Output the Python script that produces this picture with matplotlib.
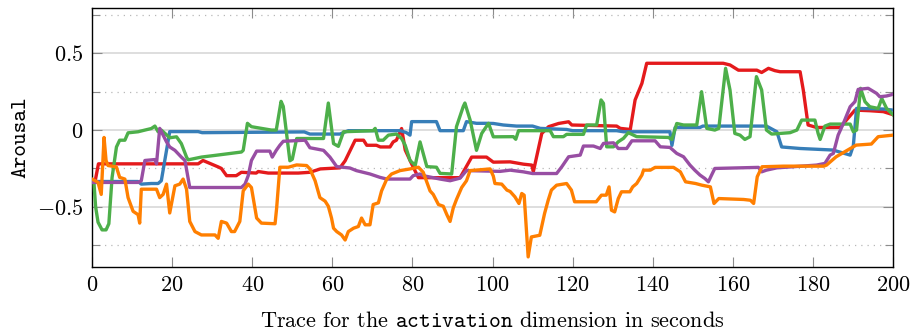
import numpy as np
import matplotlib
matplotlib.use("Agg")
import matplotlib.pyplot as plt
from matplotlib.ticker import MultipleLocator, FuncFormatter

plt.rcParams["font.family"] = "serif"
plt.rcParams["font.serif"] = ["cmr10"]
plt.rcParams["mathtext.fontset"] = "cm"
plt.rcParams["axes.unicode_minus"] = True

# (time [s], arousal) traces, one per annotator
red_pts = [(0, -0.33), (0.8, -0.33), (1.6, -0.22), (26.5, -0.22), (27.7, -0.198), (31.5, -0.24),
           (32.3, -0.25), (33.6, -0.297), (36, -0.297), (37.3, -0.275), (41, -0.28), (41.5, -0.27),
           (44, -0.28), (51.5, -0.28), (54.4, -0.275), (57, -0.253), (61.9, -0.246), (63.2, -0.2),
           (65.7, -0.066), (67.8, -0.066), (68.6, -0.099), (71, -0.099), (72, -0.11), (74.4, -0.11),
           (75.2, -0.077), (76, -0.066), (77.3, 0.01), (78.2, -0.13), (79.8, -0.22), (81.5, -0.31),
           (91.9, -0.31), (94.8, -0.176), (98.5, -0.176), (100.2, -0.209), (104.4, -0.207),
           (107.7, -0.222), (109.8, -0.228), (110.2, -0.27), (112.3, -0.022), (114, 0.022),
           (116.5, 0.043), (119, 0.054), (119.8, 0.033), (131, 0.026), (131.9, 0.011),
           (134.4, 0.004), (135.6, 0.196), (137.3, 0.304), (138.5, 0.435), (157.6, 0.435),
           (159.3, 0.424), (161.4, 0.39), (166, 0.39), (167.2, 0.375), (168.9, 0.402),
           (170.5, 0.387), (171.8, 0.38), (176.8, 0.38), (177.6, 0.26), (178.8, 0.033),
           (180.9, 0.017), (186.8, 0.017), (188, 0.054), (190.5, 0.13), (194.2, 0.126),
           (197.6, 0.12), (200, 0.1)]

blue_pts = [(0, -0.335), (11.5, -0.335), (12.3, -0.352), (14.8, -0.348), (16.5, -0.348),
            (17.3, -0.33), (19.4, -0.01), (26.5, -0.01), (27.5, -0.017), (53, -0.012),
            (54.4, -0.026), (61.9, -0.026), (64, -0.004), (77, -0.004), (78.5, -0.017),
            (79.4, -0.033), (79.8, 0.055), (86, 0.055), (86.9, -0.004), (92.7, -0.004),
            (93.5, 0.055), (96, 0.044), (98.5, 0.044), (100.2, 0.043), (102.7, 0.033),
            (106, 0.026), (110, 0.026), (111.9, 0.011), (118.5, 0.004), (120, -0.004),
            (131, -0.004), (132.7, -0.011), (144.3, -0.011), (144.8, -0.1), (145.6, 0.017),
            (151.8, 0.017), (152.5, 0.026), (168.4, 0.026), (171, -0.011), (172.2, -0.11),
            (176.8, -0.12), (185, -0.13), (189.3, -0.163), (190.1, -0.1), (190.9, 0.141),
            (197.6, 0.137), (200, 0.13)]

green_pts = [(0, -0.33), (0.5, -0.35), (0.9, -0.5), (1.5, -0.6), (2.5, -0.65), (3.5, -0.65),
             (4.2, -0.61), (5, -0.31), (6.1, -0.11), (6.9, -0.066), (8.2, -0.066), (9, -0.018),
             (11.5, -0.011), (13.2, 0), (14.8, 0.01), (15.7, 0.026), (16.5, -0.011), (17.3, 0),
             (19.4, -0.05), (21.1, -0.044), (22.3, -0.088), (23.6, -0.176), (24, -0.194),
             (27.3, -0.176), (30.7, -0.165), (34, -0.154), (37.3, -0.143), (37.75, -0.132),
             (38.8, 0.044), (39.8, 0.022), (42.3, 0.011), (44.8, 0), (46, 0), (47.2, 0.187),
             (47.75, 0.154), (49.4, -0.2), (50, -0.19), (51.1, -0.055), (57.8, -0.055),
             (59, 0.176), (60.3, -0.088), (61.5, -0.106), (62.8, -0.011), (70.2, -0.004),
             (70.7, 0.011), (71.5, -0.066), (72.7, -0.066), (74, -0.033), (76, -0.026),
             (77.3, -0.055), (78.2, -0.099), (79.4, -0.198), (80.7, -0.23), (81.9, -0.077),
             (83.6, -0.238), (86, -0.242), (86.9, -0.282), (89.8, -0.286), (91, 0.022),
             (92.7, 0.154), (93.1, 0.176), (94.4, 0.066), (96, -0.132), (97.3, -0.022),
             (99, 0.044), (100.2, -0.044), (105.2, -0.043), (105.8, -0.06), (106.5, -0.004),
             (114.4, -0.004), (115.2, -0.043), (117.7, -0.043), (118.5, -0.028), (122.7, -0.028),
             (123.5, 0.033), (126, 0.033), (127.1, 0.196), (127.7, 0.174), (128.5, -0.109),
             (130.2, -0.109), (131.4, -0.076), (132.7, -0.054), (133.9, -0.017), (135.2, -0.033),
             (136, -0.043), (143.9, -0.048), (144.8, -0.061), (146, 0.043), (147.7, 0.033),
             (151, 0.033), (152.2, 0.25), (153.5, 0.011), (155.5, 0), (156.5, 0.011),
             (157.3, 0.196), (158.2, 0.402), (159.3, 0.261), (160.5, -0.022), (161.8, -0.033),
             (163, -0.061), (164.3, -0.043), (165.9, 0.348), (167.2, 0.261), (168.4, 0),
             (169.7, -0.026), (174.3, -0.017), (176, 0), (177.2, 0.065), (180.5, 0.065),
             (181.3, -0.022), (181.8, -0.061), (183, 0.026), (184.3, 0.039), (189.3, 0.039),
             (190.1, -0.011), (190.9, 0), (191.9, 0.272), (193, 0.185), (194.2, 0.152),
             (196.3, 0.141), (197.2, 0.206), (198.4, 0.141), (200, 0.1)]

purple_pts = [(0, -0.341), (11.5, -0.341), (12.3, -0.33), (13.2, -0.198), (15.7, -0.192),
              (16.1, -0.22), (16.9, 0.011), (17.75, -0.033), (18.6, -0.077), (19.4, -0.11),
              (20.7, -0.132), (22.3, -0.176), (23.2, -0.198), (24.4, -0.374), (37.3, -0.374),
              (38.2, -0.352), (39, -0.297), (39.8, -0.198), (41.1, -0.137), (44.4, -0.137),
              (45, -0.176), (46, -0.132), (46.9, -0.099), (47.75, -0.073), (53.2, -0.066),
              (54.4, -0.115), (57.8, -0.132), (59.4, -0.176), (61.1, -0.238), (64.4, -0.247),
              (66, -0.264), (69.4, -0.286), (71.9, -0.308), (73.6, -0.319), (79.4, -0.319),
              (80.2, -0.297), (81.9, -0.286), (82.7, -0.297), (86.9, -0.319), (89.4, -0.33),
              (91.9, -0.313), (93.5, -0.264), (101.9, -0.269), (104.4, -0.261), (107.7, -0.272),
              (110, -0.283), (116, -0.283), (117.3, -0.239), (119, -0.174), (121.9, -0.163),
              (122.7, -0.104), (125.2, -0.104), (126.9, -0.12), (127.7, -0.087), (130.2, -0.083),
              (131.4, -0.12), (133.5, -0.12), (134.8, -0.07), (140.6, -0.07), (141.9, -0.109),
              (144.3, -0.113), (146, -0.152), (147.7, -0.174), (149.3, -0.228), (150.5, -0.261),
              (151.8, -0.293), (153, -0.315), (153.9, -0.337), (154.7, -0.293), (155.5, -0.25),
              (166.4, -0.243), (167.2, -0.272), (168.4, -0.261), (171, -0.246), (175, -0.239),
              (180.9, -0.228), (183, -0.217), (184.3, -0.163), (185.1, -0.152), (186.3, -0.033),
              (187.6, 0.043), (189.3, 0.152), (190.5, 0.185), (191.3, 0.265), (193.8, 0.272),
              (195.9, 0.239), (196.7, 0.217), (198.4, 0.222), (200, 0.233)]

orange_pts = [(0, -0.319), (0.8, -0.33), (1.5, -0.341), (2.3, -0.419), (3, -0.048), (3.5, -0.198),
              (4, -0.231), (5.7, -0.238), (6.1, -0.242), (6.9, -0.308), (8.2, -0.319), (9, -0.44),
              (10.25, -0.529), (11.5, -0.551), (11.9, -0.606), (12.3, -0.385), (16.1, -0.385),
              (16.9, -0.44), (17.75, -0.419), (18.6, -0.352), (19.4, -0.54), (20.7, -0.363),
              (21.9, -0.352), (22.75, -0.319), (23.6, -0.385), (24.4, -0.595), (25.7, -0.661),
              (27.3, -0.683), (30.7, -0.683), (31.5, -0.705), (32.3, -0.595), (33.6, -0.606),
              (34.8, -0.661), (35.6, -0.661), (36.9, -0.595), (37.75, -0.396), (39, -0.352),
              (39.8, -0.374), (41.1, -0.573), (42.3, -0.606), (45.7, -0.61), (46.1, -0.507),
              (46.9, -0.242), (49, -0.242), (51.1, -0.227), (53.6, -0.231), (54.4, -0.253),
              (55.7, -0.33), (56.9, -0.44), (58.2, -0.463), (59, -0.496), (59.8, -0.573),
              (60.3, -0.639), (61.1, -0.661), (62.3, -0.683), (63.2, -0.716), (64, -0.661),
              (65.3, -0.639), (66.5, -0.628), (67.3, -0.573), (68.2, -0.617), (69.4, -0.617),
              (70.2, -0.485), (71.5, -0.474), (72.3, -0.396), (73.6, -0.319), (74.8, -0.286),
              (76.9, -0.264), (79.4, -0.253), (81.5, -0.242), (82.7, -0.275), (84.4, -0.396),
              (85.2, -0.419), (86.5, -0.485), (87.7, -0.496), (88.6, -0.551), (89.4, -0.595),
              (90.2, -0.507), (91, -0.452), (92.3, -0.374), (93.5, -0.33), (94.4, -0.264),
              (99.4, -0.253), (100.2, -0.3), (100.6, -0.348), (102.3, -0.352), (103.6, -0.391),
              (104.4, -0.4), (105.6, -0.435), (106.6, -0.478), (107.3, -0.413), (107.9, -0.424),
              (108.9, -0.826), (109.7, -0.696), (111.8, -0.685), (113, -0.543), (113.9, -0.457),
              (114.7, -0.391), (116, -0.359), (118.5, -0.348), (119.7, -0.391), (120.5, -0.467),
              (125.9, -0.467), (127.2, -0.424), (128.4, -0.424), (129.1, -0.37), (129.7, -0.522),
              (130.5, -0.533), (131.4, -0.446), (132.2, -0.402), (134.3, -0.402), (135, -0.37),
              (136, -0.348), (137.3, -0.293), (137.7, -0.261), (139.4, -0.261), (140.6, -0.243),
              (145.2, -0.243), (146.9, -0.272), (148.2, -0.337), (150.7, -0.348), (152.3, -0.359),
              (154.4, -0.37), (155.3, -0.478), (156.5, -0.446), (162.7, -0.452), (164.4, -0.457),
              (165.2, -0.478), (166.1, -0.304), (167.3, -0.239), (172.7, -0.235), (182.7, -0.235),
              (183.4, -0.228), (185.8, -0.174), (188.7, -0.13), (190.8, -0.098), (194.6, -0.091),
              (196.3, -0.043), (200, -0.033)]

traces = [(red_pts, "#e41a1c"), (blue_pts, "#377eb8"), (green_pts, "#4daf4a"),
          (purple_pts, "#984ea3"), (orange_pts, "#ff7f00")]

fig = plt.figure(figsize=(9.13, 3.33), dpi=100)
ax = fig.add_axes([0.1008, 0.199, 0.8773, 0.777])

for pts, col in traces:
    t, a = np.array(pts).T
    ax.plot(t, a, color=col, lw=2.4, solid_joinstyle="round", zorder=3)

ax.set_xlim(0, 200)
ax.set_ylim(-0.89, 0.795)
ax.xaxis.set_major_locator(MultipleLocator(20))
ax.yaxis.set_major_locator(MultipleLocator(0.5))
ax.yaxis.set_minor_locator(MultipleLocator(0.25))
fmt = FuncFormatter(lambda v, p: f"${v:g}$")
ax.xaxis.set_major_formatter(fmt)
ax.yaxis.set_major_formatter(fmt)

ax.grid(True, axis="y", which="major", color="#d4d4d4", lw=1.1, zorder=1)
ax.grid(True, axis="y", which="minor", color="#b8b8b8", lw=0.9, ls=(0, (1, 4)), zorder=1)
ax.tick_params(which="both", direction="in", top=True, right=True, color="0.55",
               labelsize=16, pad=6)
ax.tick_params(which="major", length=7.5, width=0.8)
ax.tick_params(which="minor", length=6, width=0.8)
for s in ax.spines.values():
    s.set_linewidth(1.0)

ax.set_xlabel(r"Trace for the $\mathtt{activation}$ dimension in seconds", fontsize=16,
              labelpad=12)
ax.set_ylabel("Arousal", fontsize=16, fontfamily="cmtt10", labelpad=5)

fig.savefig("out.png", dpi=100)
